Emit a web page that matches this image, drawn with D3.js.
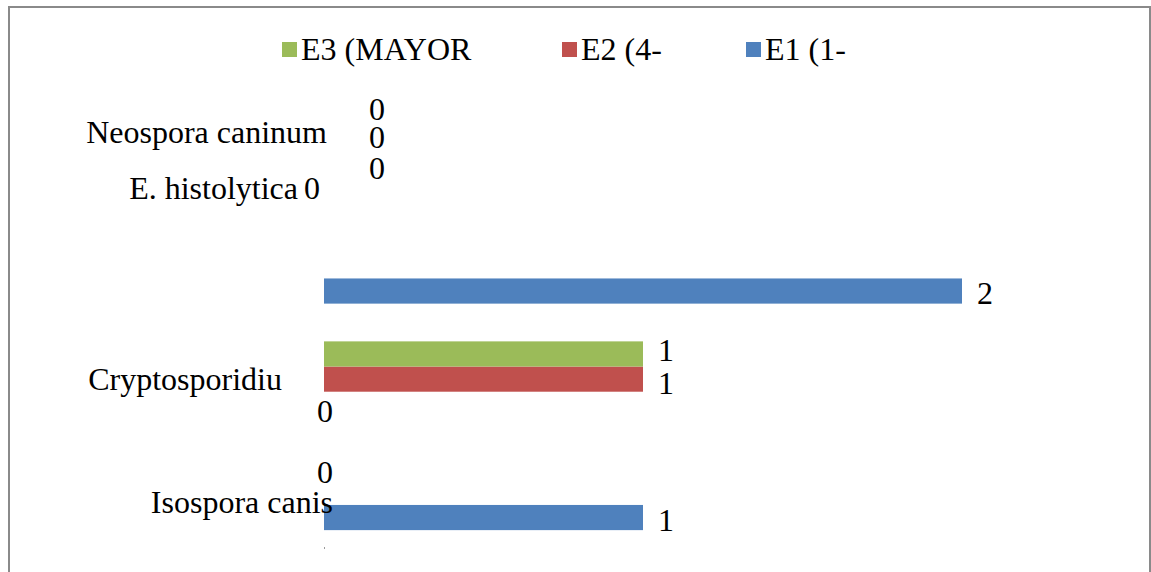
<!DOCTYPE html>
<html>
<head>
<meta charset="utf-8">
<script src="https://cdn.jsdelivr.net/npm/d3@7/dist/d3.min.js"></script>
<style>
  html, body { margin: 0; padding: 0; background: #fff; }
  svg { display: block; }
  text { font-family: "Liberation Serif", "Times New Roman", serif; fill: #000; }
</style>
</head>
<body>
<svg id="chart" width="1151" height="572"></svg>
<script>
// Parasite counts per age group
const categories = ["Isospora canis", "Cryptosporidiu", "E. histolytica", "Neospora caninum"];
const seriesKeys = ["E1", "E2", "E3"];
const seriesNames = ["E1 (1-", "E2 (4-", "E3 (MAYOR"];
const e1Values = [1, 0, 2, 0];
const e2Values = [0, 1, 0, 0];
const e3Values = [0, 1, 0, 0];
const legendOrder = ["E3", "E2", "E1"];

const colors = { E1: "#4F81BD", E2: "#C0504D", E3: "#9BBB59" };

// Data labels that sit away from their default spot, and ones left undrawn
const labelNudge = {
  "Neospora caninum|E3": [52, -20.5],
  "Neospora caninum|E2": [52, -17.6],
  "Neospora caninum|E1": [52, -12.0],
  "E. histolytica|E3": [-13, -55],
  "Cryptosporidiu|E3": [0, -5.5],
  "Cryptosporidiu|E2": [0, 2.3],
  "Cryptosporidiu|E1": [0, 4.8],
  "Isospora canis|E3": [0, 2.5]
};
const hiddenLabels = new Set(["Isospora canis|E2", "E. histolytica|E2"]);

// Category label placement: [dx from axis, dy from band centre]
const categoryNudge = {
  "Neospora caninum": [3, -9.5],
  "E. histolytica": [-26, -66.7],
  "Cryptosporidiu": [-42, 10.4],
  "Isospora canis": [9, 21.1]
};

const valuesByKey = { E1: e1Values, E2: e2Values, E3: e3Values };
const rows = categories.map((c, i) => ({
  category: c,
  values: seriesKeys.map(k => ({ key: k, value: valuesByKey[k][i], category: c }))
}));

const svg = d3.select("#chart");

// Outer frame
svg.append("rect")
  .attr("x", 9).attr("y", 7)
  .attr("width", 1141).attr("height", 600)
  .attr("fill", "none")
  .attr("stroke", "#8a8a8a")
  .attr("stroke-width", 2);

const plot = { left: 324, top: 96, bottom: 549 };

const x = d3.scaleLinear().domain([0, 2]).range([plot.left, plot.left + 638]);

const y = d3.scaleBand()
  .domain(categories.slice().reverse())
  .range([plot.top, plot.bottom])
  .paddingInner(1 / 3)
  .paddingOuter(1 / 6);

const ySub = d3.scaleBand()
  .domain(["E3", "E2", "E1"])
  .range([0, y.bandwidth()]);

// Bars
const groups = svg.append("g").selectAll("g")
  .data(rows)
  .join("g")
  .attr("transform", d => `translate(0,${y(d.category)})`);

groups.selectAll("rect")
  .data(d => d.values)
  .join("rect")
  .attr("x", x(0))
  .attr("y", d => ySub(d.key))
  .attr("width", d => x(d.value) - x(0))
  .attr("height", ySub.bandwidth())
  .attr("fill", d => colors[d.key]);

// Value labels
groups.selectAll("text.value")
  .data(d => d.values.filter(v => !hiddenLabels.has(v.category + "|" + v.key)))
  .join("text")
  .attr("class", "value")
  .attr("font-size", 32)
  .attr("text-anchor", d => d.value > 0 ? "start" : "middle")
  .attr("x", d => {
    const n = labelNudge[d.category + "|" + d.key] || [0, 0];
    return (d.value > 0 ? x(d.value) + 15 : x(0) + 1) + n[0];
  })
  .attr("y", d => {
    const n = labelNudge[d.category + "|" + d.key] || [0, 0];
    return ySub(d.key) + ySub.bandwidth() / 2 + 13 + n[1];
  })
  .text(d => d.value);

// Category axis (labels only), drawn over the bars
const axis = svg.append("g")
  .attr("transform", `translate(${plot.left},0)`)
  .call(d3.axisLeft(y).tickSize(0).tickPadding(0));
axis.select(".domain").remove();
axis.selectAll(".tick text")
  .attr("font-family", "Liberation Serif, Times New Roman, serif")
  .attr("font-size", 32)
  .attr("fill", "#000")
  .attr("text-anchor", "end")
  .attr("dy", null)
  .attr("x", d => categoryNudge[d][0])
  .attr("y", d => categoryNudge[d][1]);

// Short stub of the category axis left below the last band
svg.append("line")
  .attr("x1", x(0) + 0.5).attr("x2", x(0) + 0.5)
  .attr("y1", plot.bottom - 2).attr("y2", plot.bottom)
  .attr("stroke", "#9a9a9a")
  .attr("stroke-width", 1);

// Legend
const legendX = { E3: 282, E2: 562, E1: 746 };
const legend = svg.append("g").selectAll("g")
  .data(legendOrder)
  .join("g")
  .attr("transform", k => `translate(${legendX[k]},42)`);
legend.append("rect")
  .attr("width", 15).attr("height", 15)
  .attr("fill", k => colors[k]);
legend.append("text")
  .attr("x", 19).attr("y", 18)
  .attr("font-size", 32)
  .text(k => seriesNames[seriesKeys.indexOf(k)]);
</script>
</body>
</html>
